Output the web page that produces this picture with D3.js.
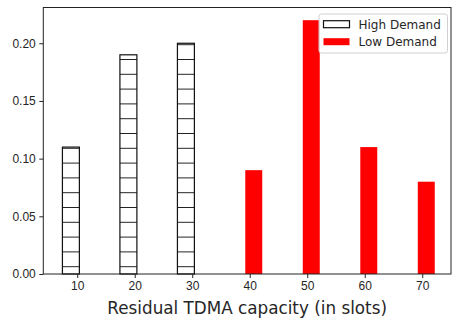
<!DOCTYPE html>
<html lang="en">
<head>
    <meta charset="UTF-8">
    <title>Residual TDMA capacity</title>
    <script src="https://d3js.org/d3.v7.min.js"></script>
    <style>
        body {
            margin: 0;
            padding: 0;
            background-color: #ffffff;
        }

        svg {
            font-family: "DejaVu Sans", sans-serif;
            display: block;
        }

        .tick text {
            font-size: 12px;
            fill: #262626;
        }

        .axis-label {
            font-size: 16.8px;
            fill: #262626;
            text-anchor: middle;
        }

        .legend-text {
            font-size: 12px;
            fill: #262626;
        }
    </style>
</head>
<body>
    <div id="chart"></div>
    <script>
        // data
        const highSlots = [10, 20, 30];
        const highValues = [0.11, 0.19, 0.20];
        const lowSlots = [40, 50, 60, 70];
        const lowValues = [0.09, 0.22, 0.11, 0.08];
        const xTicks = [10, 20, 30, 40, 50, 60, 70];
        const yTicks = [0.00, 0.05, 0.10, 0.15, 0.20];
        const seriesNames = ["High Demand", "Low Demand"];

        const width = 453;
        const height = 320;
        const plot = { left: 43.3, right: 451, top: 7.5, bottom: 274 };

        const svg = d3.select("#chart")
            .append("svg")
            .attr("width", width)
            .attr("height", height);

        const x = d3.scaleLinear().domain([4.1, 75.0]).range([plot.left, plot.right]);
        const y = d3.scaleLinear().domain([0, 0.231]).range([plot.bottom, plot.top]);

        // bars are a bit off the tick, like in the original
        const barWidth = 2.95;
        const highShift = -1.1;
        const lowShift = 0.7;

        // horizontal hatch, tiled from page coordinates
        const defs = svg.append("defs");
        const hatch = defs.append("pattern")
            .attr("id", "hatch")
            .attr("patternUnits", "userSpaceOnUse")
            .attr("x", 0)
            .attr("y", 266.2)
            .attr("width", 10)
            .attr("height", 14.8);
        hatch.append("rect")
            .attr("width", 10)
            .attr("height", 14.8)
            .attr("fill", "#ffffff");
        hatch.append("line")
            .attr("x1", 0)
            .attr("x2", 10)
            .attr("y1", 0.5)
            .attr("y2", 0.5)
            .attr("stroke", "#222")
            .attr("stroke-width", 1);

        // high demand bars
        svg.selectAll(".bar-high")
            .data(highSlots)
            .enter()
            .append("rect")
            .attr("class", "bar-high")
            .attr("x", d => x(d + highShift - barWidth / 2))
            .attr("width", d => x(d + highShift + barWidth / 2) - x(d + highShift - barWidth / 2))
            .attr("y", (d, i) => y(highValues[i]))
            .attr("height", (d, i) => y(0) - y(highValues[i]))
            .attr("fill", "url(#hatch)")
            .attr("stroke", "#111")
            .attr("stroke-width", 1.2);

        // low demand bars
        svg.selectAll(".bar-low")
            .data(lowSlots)
            .enter()
            .append("rect")
            .attr("class", "bar-low")
            .attr("x", d => x(d + lowShift - barWidth / 2))
            .attr("width", d => x(d + lowShift + barWidth / 2) - x(d + lowShift - barWidth / 2))
            .attr("y", (d, i) => y(lowValues[i]))
            .attr("height", (d, i) => y(0) - y(lowValues[i]))
            .attr("fill", "#ff0000");

        // axes
        const xAxis = d3.axisBottom(x).tickValues(xTicks).tickSize(4).tickPadding(3.5);
        const yAxis = d3.axisLeft(y).tickValues(yTicks).tickFormat(d3.format(".2f")).tickSize(4).tickPadding(3.5);

        svg.append("g")
            .attr("transform", `translate(0,${plot.bottom})`)
            .call(xAxis)
            .call(g => g.select(".domain").remove());

        svg.append("g")
            .attr("transform", `translate(${plot.left},0)`)
            .call(yAxis)
            .call(g => g.select(".domain").remove());

        svg.selectAll(".tick line").attr("stroke", "#222").attr("stroke-width", 1);

        // frame
        svg.append("rect")
            .attr("x", plot.left)
            .attr("y", plot.top)
            .attr("width", plot.right - plot.left)
            .attr("height", plot.bottom - plot.top)
            .attr("fill", "none")
            .attr("stroke", "#222")
            .attr("stroke-width", 1);

        // x label
        svg.append("text")
            .attr("class", "axis-label")
            .attr("x", (plot.left + plot.right) / 2)
            .attr("y", 314)
            .text("Residual TDMA capacity (in slots)");

        // legend
        const legend = svg.append("g").attr("transform", "translate(319,14)");
        legend.append("rect")
            .attr("width", 128.5)
            .attr("height", 39)
            .attr("rx", 2.5)
            .attr("fill", "#ffffff")
            .attr("fill-opacity", 0.8)
            .attr("stroke", "#d0d0d0")
            .attr("stroke-width", 1);

        const legendRows = legend.selectAll(".legend-row")
            .data(seriesNames)
            .enter()
            .append("g")
            .attr("class", "legend-row")
            .attr("transform", (d, i) => `translate(4.5,${6.7 + i * 17.5})`);

        legendRows.append("rect")
            .attr("width", 26)
            .attr("height", 7)
            .attr("fill", (d, i) => i === 0 ? "#ffffff" : "#ff0000")
            .attr("stroke", (d, i) => i === 0 ? "#111" : "none")
            .attr("stroke-width", 1.2);

        legendRows.append("text")
            .attr("class", "legend-text")
            .attr("x", 35)
            .attr("y", 7.8)
            .text(d => d);
    </script>
</body>
</html>
